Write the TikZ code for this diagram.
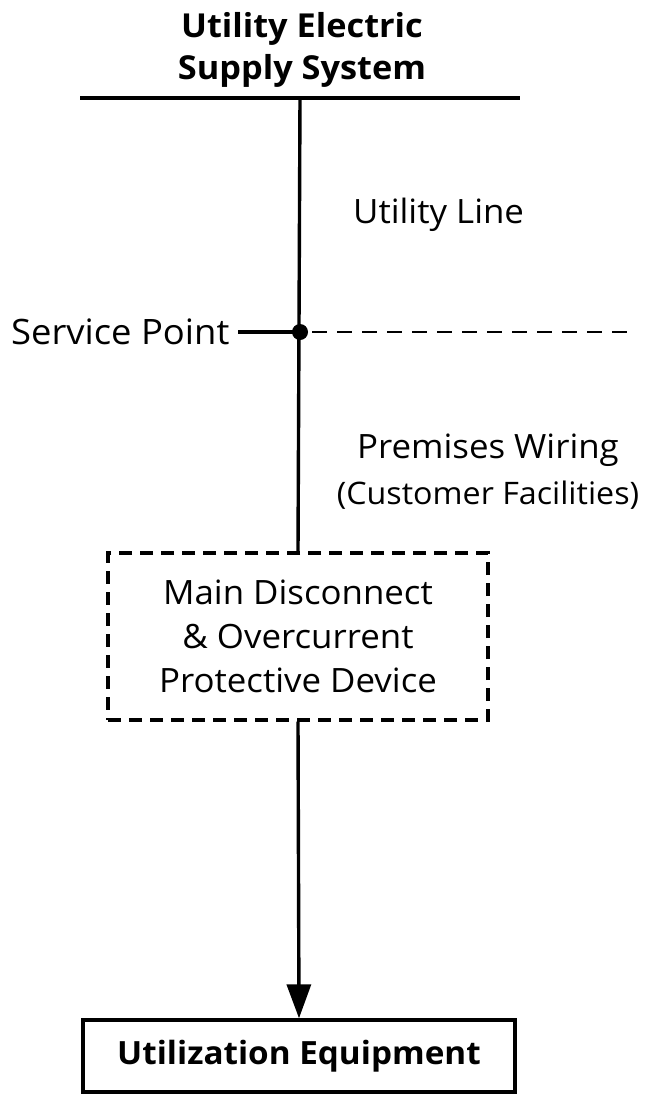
\documentclass[tikz,border=0pt]{standalone}
\usepackage{fontspec}
\setmainfont[FakeStretch=1.04]{Open Sans}
\usetikzlibrary{arrows.meta}
\begin{document}
\begin{tikzpicture}[x=1pt,y=-1pt,
  wire/.style={line width=3.4pt},
  lbl/.style={font=\fontsize{33.5}{40}\selectfont, inner sep=0pt},
  blbl/.style={font=\bfseries\fontsize{33}{42}\selectfont, inner sep=0pt, align=center}]
\useasboundingbox (0,0) rectangle (647,1100);
\node[blbl] (title) at (302,50) {Utility Electric\\Supply System};
\coordinate (busL) at (80,98);
\coordinate (busR) at (520,98);
\coordinate (busM) at (300,98);
\draw[wire] (busL) -- (busR);
\node[lbl, anchor=west] (uline) at (353,215) {Utility Line};
\fill (300,332) circle (8) coordinate (sp);
\node[lbl, anchor=west, font=\fontsize{35}{40}\selectfont] (splbl) at (11,332) {Service Point};
\coordinate (splineL) at (238,332);
\draw[wire] (splineL) -- (sp);
\coordinate (dashend) at (630,332);
\draw[line width=2.8pt, dash pattern=on 15pt off 10pt] ([xshift=12pt]sp) -- (dashend);
\node[lbl, align=center, font=\fontsize{33.5}{46}\selectfont] (prem) at (488,472) {Premises Wiring\\{\fontsize{31}{46}\selectfont (Customer Facilities)}};
\node[draw, line width=3.2pt, dash pattern=on 13pt off 8pt, minimum width=380pt, minimum height=167pt, inner sep=0pt, align=center, font=\fontsize{33.5}{44}\selectfont] (main) at (298,636.5) {Main Disconnect\\ \& Overcurrent\\Protective Device};
\draw[wire] (busM) -- (main.north);
\node[draw, line width=3.4pt, minimum width=432pt, minimum height=72pt, inner sep=0pt, font=\bfseries\fontsize{32}{38}\selectfont] (util) at (299,1056) {Utilization Equipment};
\draw[wire, -{Triangle[length=34pt,width=24pt]}] (main.south) -- (util.north);
\end{tikzpicture}
\end{document}
